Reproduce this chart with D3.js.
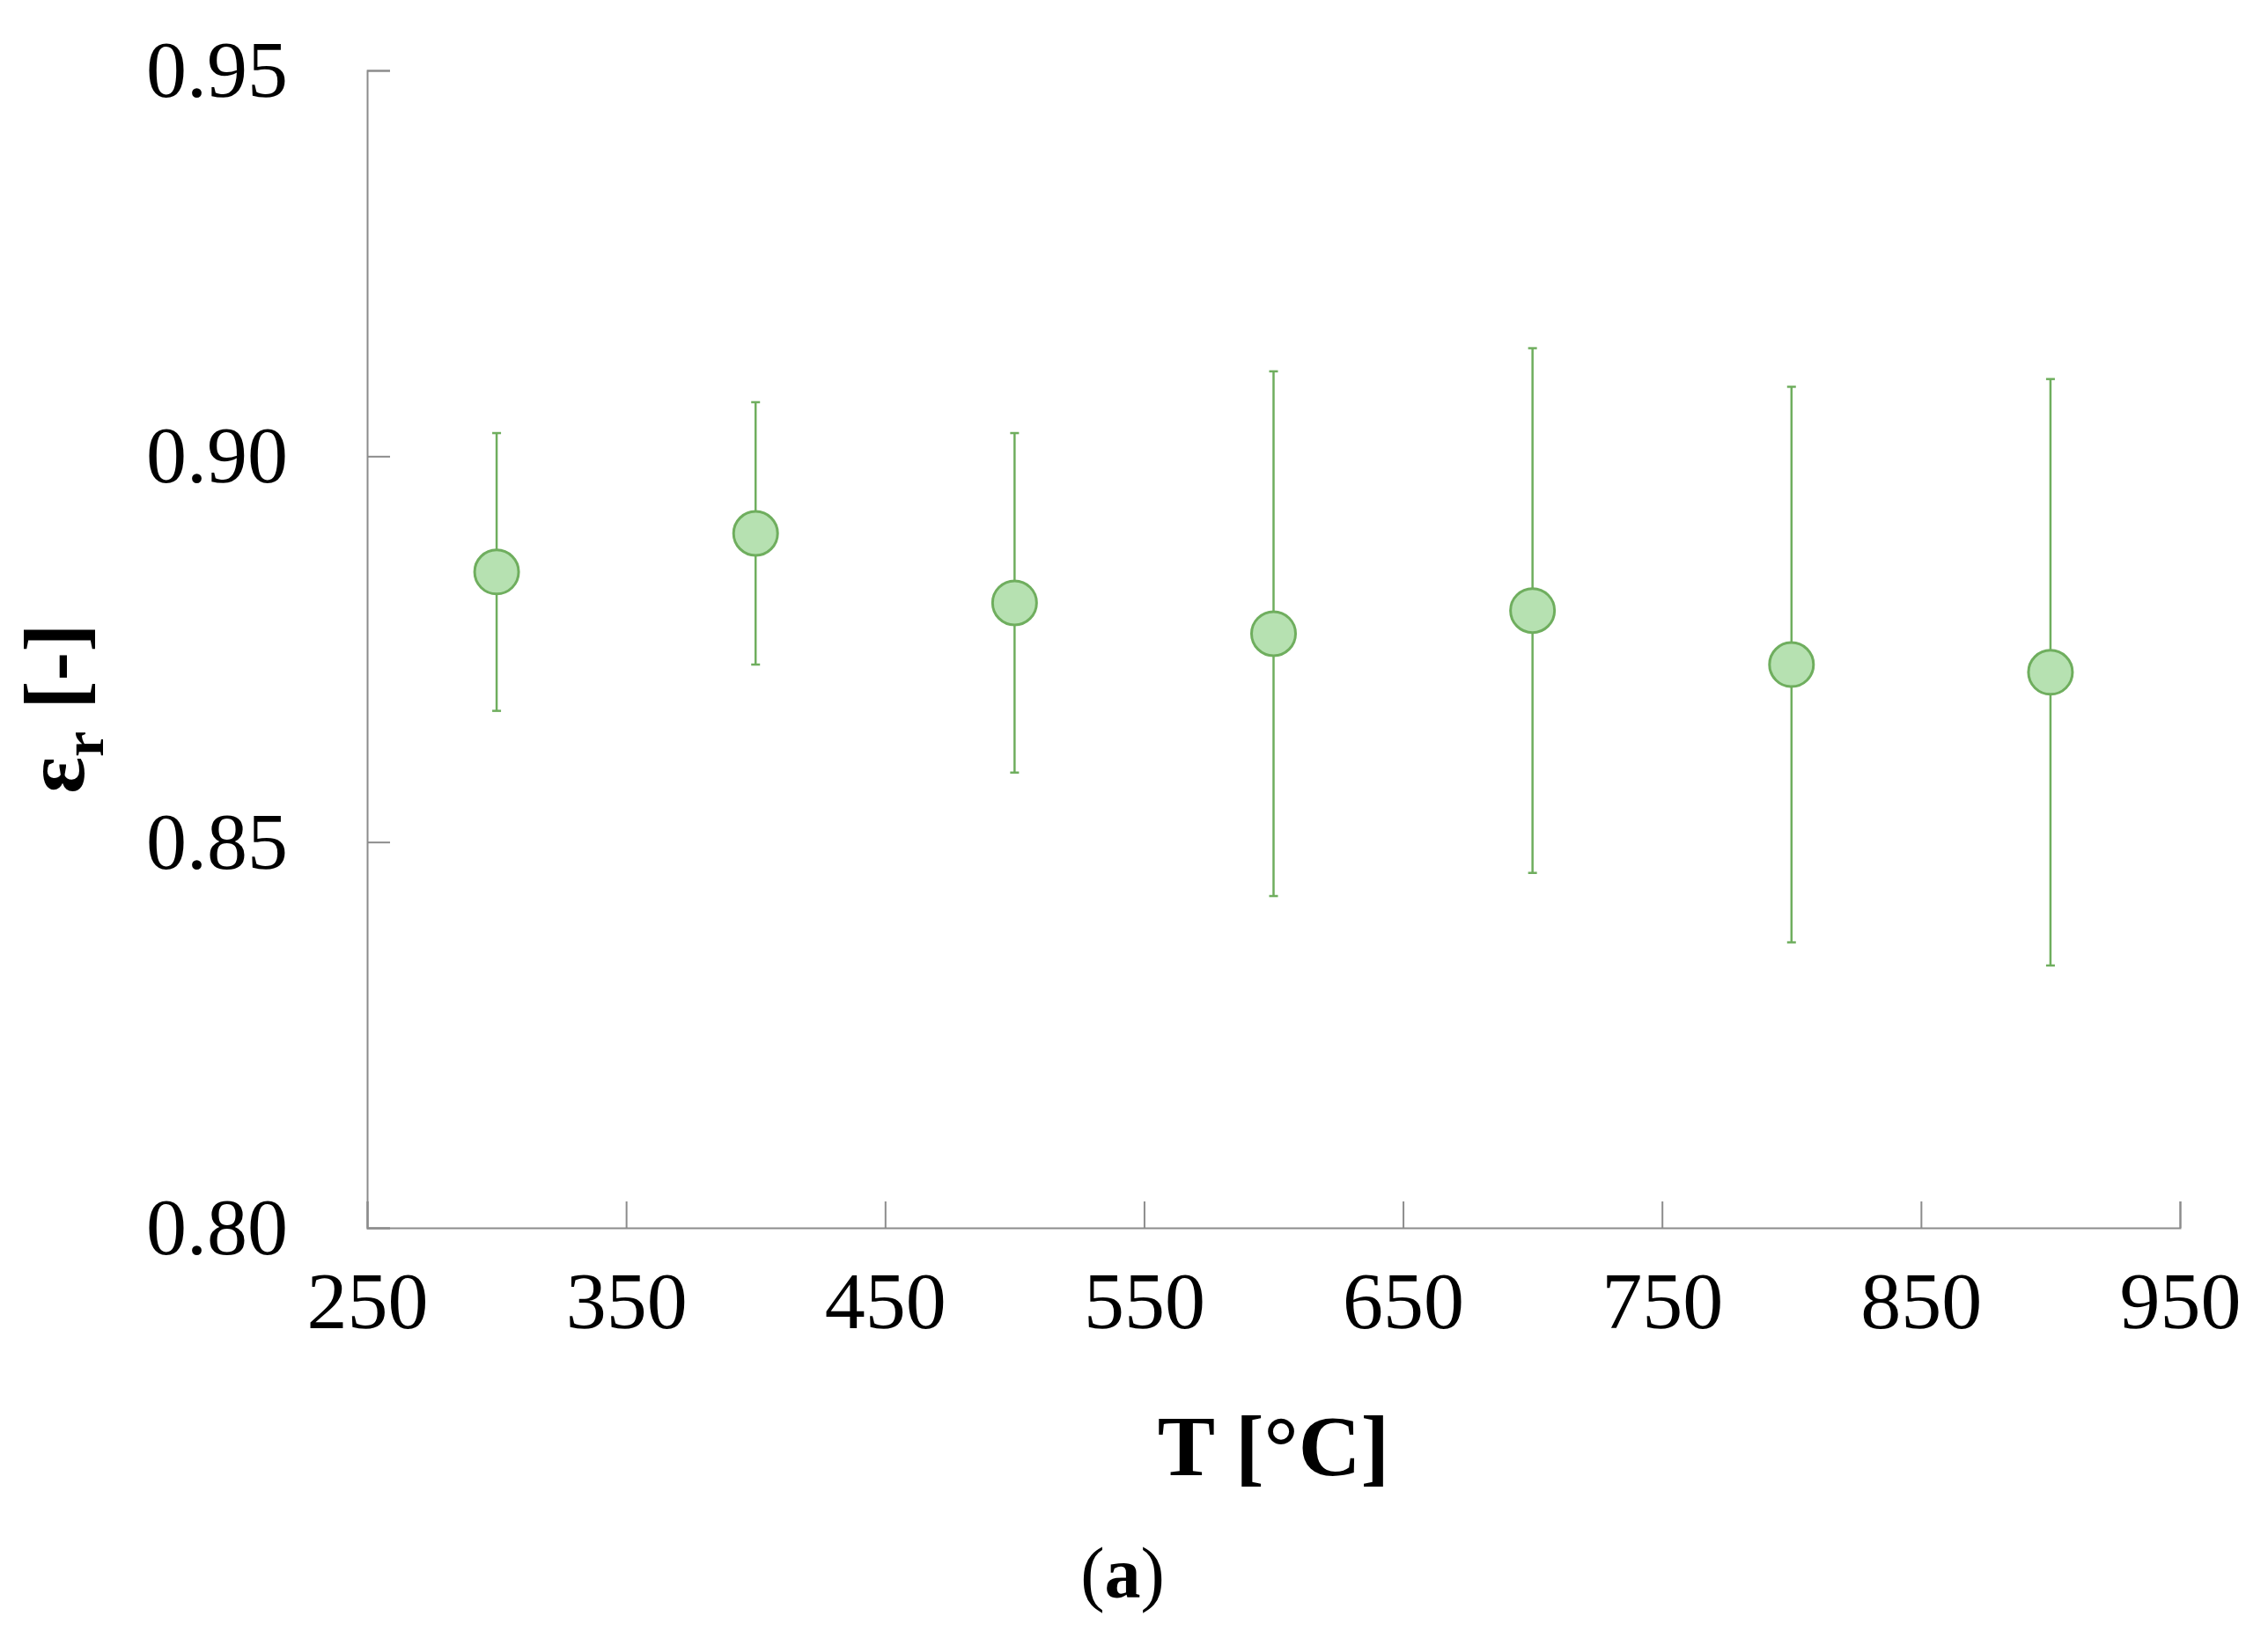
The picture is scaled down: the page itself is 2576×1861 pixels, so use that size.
<!DOCTYPE html><html><head><meta charset="utf-8"><script src="https://cdn.jsdelivr.net/npm/d3@7"></script>
<style>body{margin:0;background:#fff}</style></head><body><svg id="c" width="2576" height="1861"></svg>
<script>
const temps=[300,400,500,600,700,800,900];
const eps=[0.885,0.890,0.881,0.877,0.880,0.873,0.872];
const errLow=[0.867,0.873,0.859,0.843,0.846,0.837,0.834];
const errHigh=[0.903,0.907,0.903,0.911,0.914,0.909,0.910];
const xTicks=[250,350,450,550,650,750,850,950];
const yTicks=[0.80,0.85,0.90,0.95];
const svg=d3.select("#c");
const L=417,R=2476,T=80,B=1395;
const x=d3.scaleLinear().domain([250,950]).range([L,R]);
const y=d3.scaleLinear().domain([0.80,0.95]).range([B,T]);
const ax="#8c8c8c",font="'Liberation Serif','Times New Roman',serif";
svg.append("g").attr("transform",`translate(0,${B})`).call(d3.axisBottom(x).tickValues(xTicks).tickSize(-30).tickFormat(d3.format("d")).tickPadding(45))
 .call(g=>{g.select(".domain").attr("stroke",ax).attr("stroke-width",2);g.selectAll("line").attr("stroke",ax).attr("stroke-width",2);
 g.selectAll("text").attr("font-family",font).attr("font-size",92).attr("fill","#000").attr("dy","0.75em");});
svg.append("g").attr("transform",`translate(${L},0)`).call(d3.axisLeft(y).tickValues(yTicks).tickSize(-26).tickFormat(d3.format(".2f")).tickPadding(90))
 .call(g=>{g.select(".domain").attr("stroke",ax).attr("stroke-width",2);g.selectAll("line").attr("stroke",ax).attr("stroke-width",2).attr("x2",-0).attr("x1",26);
 g.selectAll("text").attr("font-family",font).attr("font-size",92).attr("fill","#000");});
const gc="#6fae5e";
const g=svg.append("g");
temps.forEach((t,i)=>{
 g.append("line").attr("x1",x(t)).attr("x2",x(t)).attr("y1",y(errLow[i])).attr("y2",y(errHigh[i])).attr("stroke",gc).attr("stroke-width",2.5);
 [errLow[i],errHigh[i]].forEach(v=>g.append("line").attr("x1",x(t)-5).attr("x2",x(t)+5).attr("y1",y(v)).attr("y2",y(v)).attr("stroke",gc).attr("stroke-width",2.5));
});
g.selectAll("circle").data(temps).join("circle").attr("cx",d=>x(d)).attr("cy",(d,i)=>y(eps[i])).attr("r",25).attr("fill","#b6e1b1").attr("stroke",gc).attr("stroke-width",3);
svg.append("text").attr("x",(L+R)/2).attr("y",1676).attr("text-anchor","middle").attr("font-family",font).attr("font-weight","bold").attr("font-size",98).text("T [°C]");
const yl=svg.append("text").attr("transform","translate(95,805) rotate(-90)").attr("text-anchor","middle").attr("font-family",font).attr("font-weight","bold").attr("font-size",98);
yl.append("tspan").text("ε");yl.append("tspan").attr("font-size",66).attr("dy",22).text("r");yl.append("tspan").attr("dy",-22).text(" [-]");
svg.append("text").attr("x",1275).attr("y",1815).attr("text-anchor","middle").attr("font-family",font).attr("font-size",82).text("(").append("tspan").attr("font-weight","bold").text("a").select(function(){return this.parentNode}).append("tspan").text(")");
</script></body></html>
